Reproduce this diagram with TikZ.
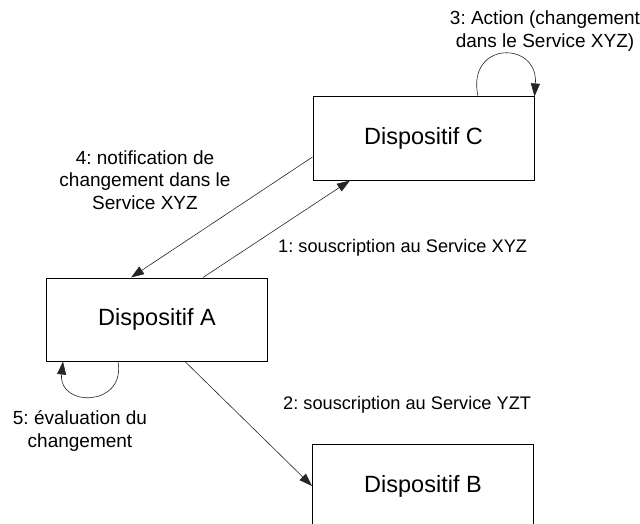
\documentclass[tikz,border=0pt]{standalone}
\usepackage{fontspec}
\setmainfont{Liberation Sans}
\frenchspacing
\usetikzlibrary{arrows.meta,calc}
\begin{document}
\begin{tikzpicture}[x=1pt,y=-1pt,
  box/.style={draw=black, line width=1pt, minimum width=221pt, minimum height=83pt, inner sep=0pt, font=\fontsize{23.5}{28}\selectfont},
  lbl/.style={inner sep=0pt, align=center, font=\fontsize{19}{22.3}\selectfont},
  lbls/.style={inner sep=0pt, align=center, font=\fontsize{18.2}{22}\selectfont},
  conn/.style={draw=black!85, line width=0.6pt, -{Triangle[length=13pt,width=9pt]}}]
\clip (0,0) rectangle (640,524);
\node[box] (C) at (423.5,138.5) {Dispositif C};
\node[box] (A) at (157,319.5) {Dispositif A};
\node[box, minimum height=84pt] (B) at (423,486) {Dispositif B};

\node[lbl] (l3) at (545,31) {3: Action (changement\\dans le Service XYZ)};
\node[lbl] (l4) at (145,180) {4: notification de\\changement dans le\\Service XYZ};
\node[lbls, anchor=west] (l1) at (278,248) {1: souscription au Service XYZ};
\node[lbls, anchor=west] (l2) at (283,405) {2: souscription au Service YZT};
\node[lbl] (l5) at (80,431) {5: évaluation du\\changement};

\coordinate (a1s) at ($(A.north)+(46,0)$);
\coordinate (a1e) at ($(C.south)+(-73.5,0)$);
\coordinate (a4s) at ($(C.west)+(0,18.5)$);
\coordinate (a4e) at ($(A.north)+(-26,0)$);
\coordinate (a2s) at ($(A.south)+(28,0)$);
\coordinate (c3s) at ($(C.north)+(54.5,0)$);
\coordinate (a5s) at ($(A.south)+(-39,0)$);
\coordinate (a5e) at ($(A.south)+(-94,0)$);

\draw[conn] (a1s) -- (a1e);
\draw[conn] (a4s) -- (a4e);
\draw[conn] (a2s) -- (B.west);
\draw[conn] (c3s) .. controls +(-12,-56) and +(4,-56) .. (C.north east);
\draw[conn] (a5s) .. controls +(8,46) and +(-5,46) .. (a5e);
\end{tikzpicture}
\end{document}
